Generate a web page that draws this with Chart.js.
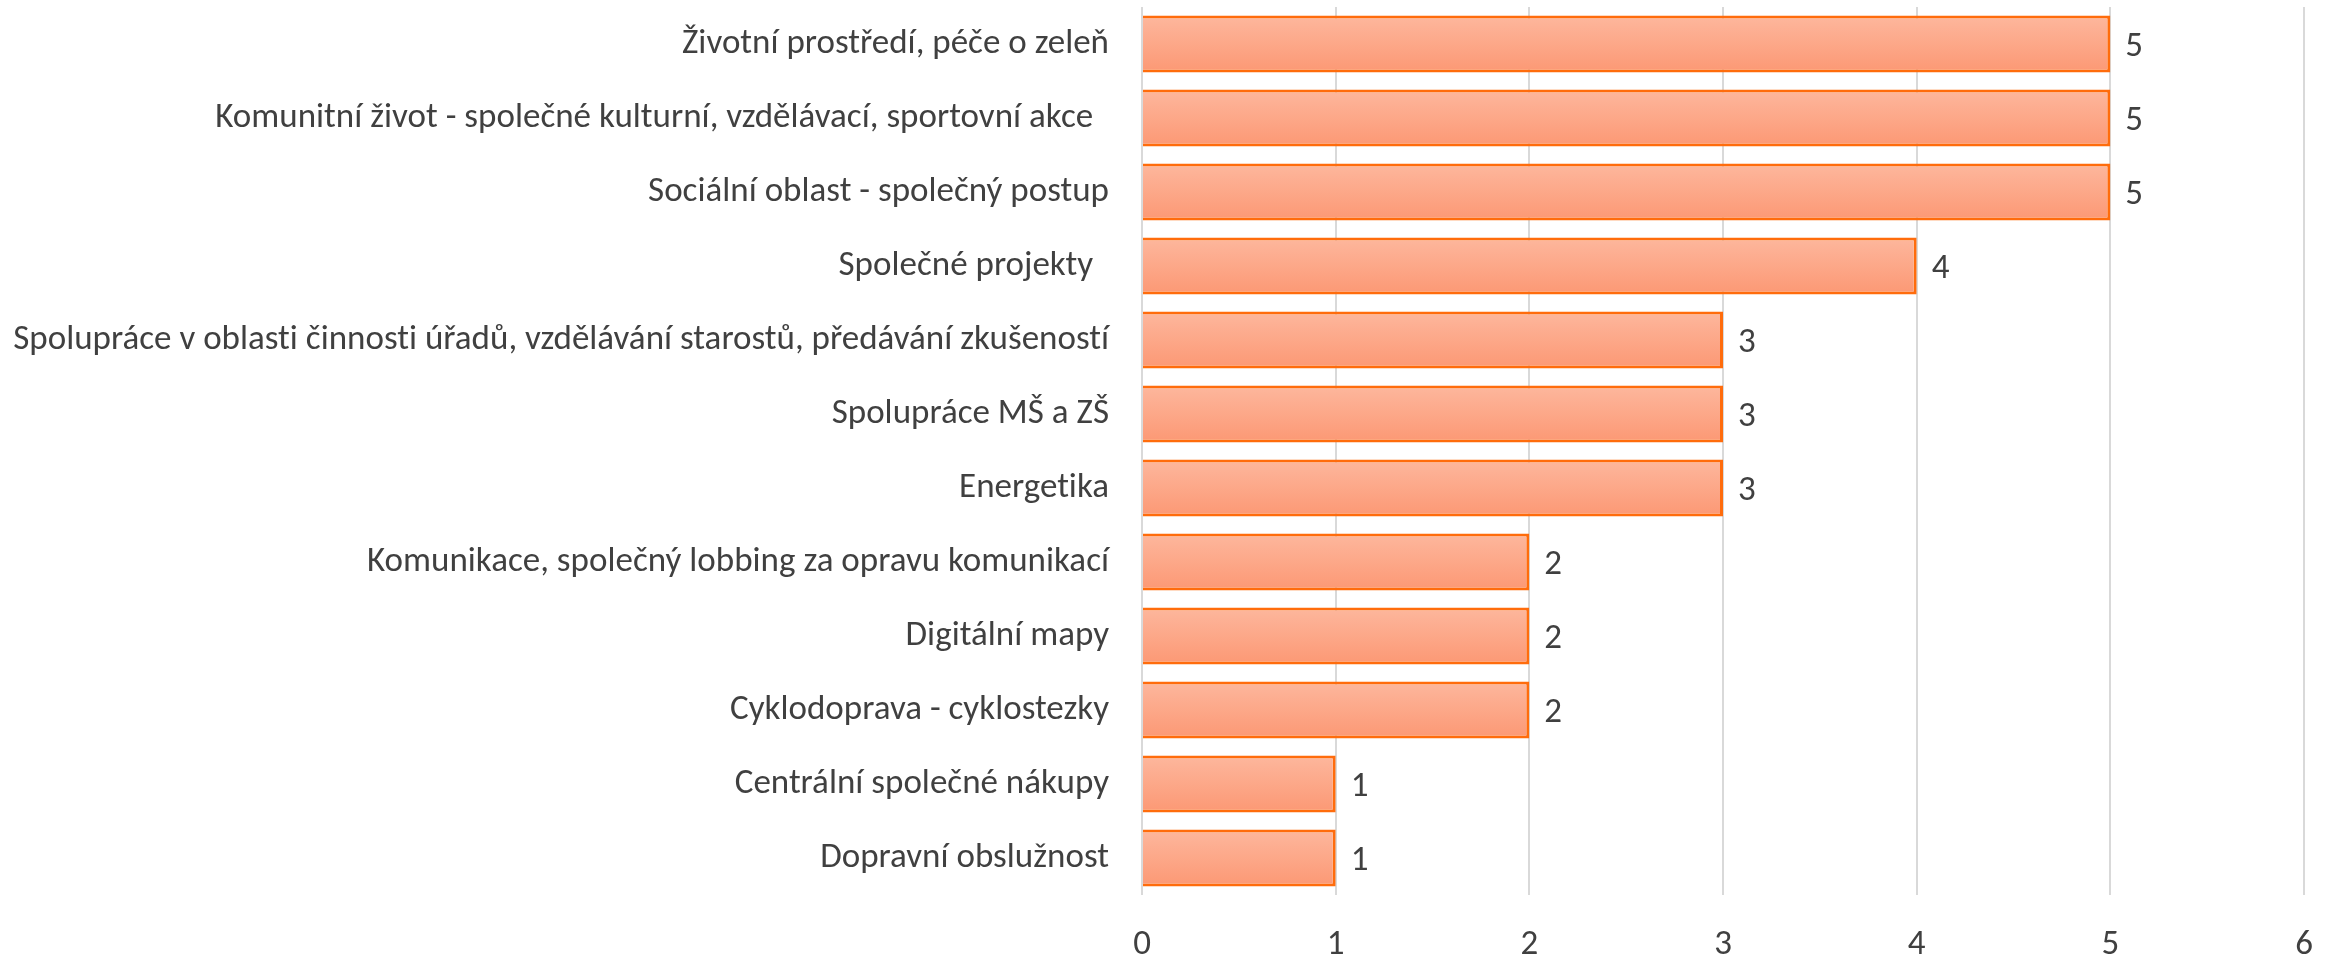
<!DOCTYPE html>
<html>
<head>
<meta charset="utf-8">
<script src="https://cdn.jsdelivr.net/npm/chart.js@4.4.1/dist/chart.umd.min.js"></script>
<style>
  html, body { margin: 0; padding: 0; background: #fff; }
  #wrap { width: 2338px; height: 957px; }
</style>
</head>
<body>
<div id="wrap"><canvas id="barChart"></canvas></div>
<script>
const categories = [
  'Životní prostředí, péče o zeleň',
  'Komunitní život - společné kulturní, vzdělávací, sportovní akce  ',
  'Sociální oblast - společný postup',
  'Společné projekty  ',
  'Spolupráce v oblasti činnosti úřadů, vzdělávání starostů, předávání zkušeností',
  'Spolupráce MŠ a ZŠ',
  'Energetika',
  'Komunikace, společný lobbing za opravu komunikací',
  'Digitální mapy',
  'Cyklodoprava - cyklostezky',
  'Centrální společné nákupy',
  'Dopravní obslužnost'
];
const counts = [5, 5, 5, 4, 3, 3, 3, 2, 2, 2, 1, 1];
const xTicks = [0, 1, 2, 3, 4, 5, 6];

const textColor = '#404040';
const fontFamily = 'Carlito, Calibri, "Liberation Sans", sans-serif';
const fontSize = 35;
const barPct = 0.77;

// vertical gradient for each bar, computed from the category scale
const barFill = (context) => {
  const chart = context.chart;
  const yScale = chart.scales.y;
  if (!yScale || context.dataIndex === undefined) return '#FCA584';
  const center = yScale.getPixelForValue(context.dataIndex);
  const half = (yScale.bottom - yScale.top) / categories.length * barPct / 2;
  if (!isFinite(center) || !isFinite(half)) return '#FCA584';
  const g = chart.ctx.createLinearGradient(0, center - half, 0, center + half);
  g.addColorStop(0, '#FDB79D');
  g.addColorStop(1, '#FC9874');
  return g;
};

// tiny letter spacing keeps "ti" from turning into a ligature
const noLigatures = {
  id: 'noLigatures',
  beforeDraw(chart) {
    if ('letterSpacing' in chart.ctx) chart.ctx.letterSpacing = '0.01px';
  }
};

// value next to the end of each bar
const valueLabels = {
  id: 'valueLabels',
  afterDatasetsDraw(chart) {
    const ctx = chart.ctx;
    const meta = chart.getDatasetMeta(0);
    ctx.save();
    ctx.font = fontSize + 'px ' + fontFamily;
    ctx.fillStyle = textColor;
    ctx.textAlign = 'left';
    ctx.textBaseline = 'middle';
    meta.data.forEach((bar, i) => {
      ctx.fillText(String(counts[i]), bar.x + 15, bar.y + 3);
    });
    ctx.restore();
  }
};

const ctx = document.getElementById('barChart').getContext('2d');
const barChart = new Chart(ctx, {
  type: 'bar',
  data: {
    labels: categories,
    datasets: [{
      data: counts,
      backgroundColor: barFill,
      borderColor: '#FF6C0C',
      borderWidth: 3,
      borderSkipped: 'start',
      barPercentage: barPct,
      categoryPercentage: 1
    }]
  },
  options: {
    indexAxis: 'y',
    responsive: true,
    maintainAspectRatio: false,
    animation: false,
    layout: { padding: { top: 7, right: 34, left: 0, bottom: 0 } },
    plugins: {
      legend: { display: false },
      tooltip: { enabled: false }
    },
    scales: {
      x: {
        min: 0,
        max: 6,
        afterBuildTicks: (scale) => { scale.ticks = xTicks.map(v => ({ value: v })); },
        grid: { color: '#D9D9D9', lineWidth: 2, drawTicks: false },
        border: { display: false },
        ticks: {
          color: textColor,
          font: { family: fontFamily, size: fontSize },
          padding: 29
        },
        afterFit: (scale) => {
          scale.height = 62;
          scale.paddingLeft = 0;
          scale.paddingRight = 0;
        }
      },
      y: {
        grid: { display: false, drawTicks: false },
        border: { display: false },
        ticks: {
          color: textColor,
          font: { family: fontFamily, size: fontSize },
          padding: 33,
          autoSkip: false
        },
        afterFit: (scale) => {
          scale.width = 1142;
          scale.paddingTop = 0;
          scale.paddingBottom = 0;
        }
      }
    }
  },
  plugins: [noLigatures, valueLabels]
});
</script>
</body>
</html>
